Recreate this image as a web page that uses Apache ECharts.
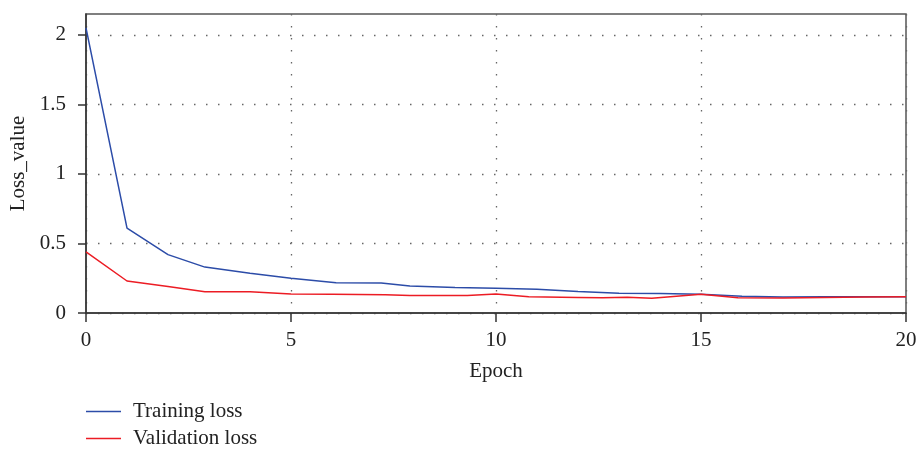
<!DOCTYPE html>
<html>
<head>
<meta charset="utf-8">
<script src="https://cdn.jsdelivr.net/npm/echarts@6/dist/echarts.min.js"></script>
<style>html,body{margin:0;padding:0;background:#fff}#c{width:916px;height:449px}</style>
</head>
<body>
<div id="c"></div>
<script>
const trainEpochs = [0, 1, 2, 2.9, 4, 5, 6.1, 7.2, 7.9, 9, 10, 11, 12, 13, 14, 15, 16, 17, 18, 19, 20];
const trainLoss   = [2.05, 0.61, 0.42, 0.33, 0.285, 0.25, 0.218, 0.216, 0.194, 0.184, 0.178, 0.17, 0.155, 0.142, 0.14, 0.134, 0.12, 0.115, 0.117, 0.117, 0.117];
const valEpochs = [0, 1, 2, 2.9, 4, 5, 6, 7.3, 7.9, 9.3, 10, 10.8, 12, 12.6, 13.2, 13.8, 15, 15.9, 17, 18, 19, 20];
const valLoss   = [0.44, 0.23, 0.19, 0.153, 0.153, 0.137, 0.134, 0.132, 0.125, 0.125, 0.137, 0.117, 0.112, 0.11, 0.113, 0.106, 0.134, 0.11, 0.108, 0.112, 0.115, 0.117];
const xTicks = [0, 5, 10, 15, 20];
const yTicks = [0, 0.5, 1, 1.5, 2];
const seriesNames = ['Training loss', 'Validation loss'];

const font = '"Liberation Serif", "DejaVu Serif", serif';
const axisCol = '#333';
const fs = 21;
const chart = echarts.init(document.getElementById('c'));
const pair = (xs, ys) => xs.map((x, i) => [x, ys[i]]);
chart.setOption({
  animation: false,
  grid: {left: 86, right: 10, top: 14, bottom: 136, show: true, borderColor: '#555', borderWidth: 1.5,
         containLabel: false, outerBoundsMode: 'none'},
  legend: {
    orient: 'vertical', left: 86, top: 401, padding: 0, itemWidth: 35, itemHeight: 1.5, itemGap: 6,
    icon: 'rect',
    textStyle: {fontFamily: font, fontSize: fs, color: '#222', padding: [0, 0, 0, 7]},
    data: seriesNames
  },
  xAxis: {
    type: 'value', min: 0, max: 20, interval: 5,
    name: 'Epoch', nameLocation: 'middle', nameGap: 48,
    nameTextStyle: {fontFamily: font, fontSize: fs, color: '#222'},
    axisLine: {show: true, lineStyle: {color: axisCol, width: 1.5}},
    axisTick: {show: true, length: 9, lineStyle: {color: axisCol, width: 1.5}},
    axisLabel: {fontFamily: font, fontSize: fs, color: '#222', margin: 17, customValues: xTicks},
    splitLine: {show: true, lineStyle: {color: '#666', width: 1.3, type: [1.5, 10.5]}}
  },
  yAxis: {
    type: 'value', min: 0, max: 2.15, interval: 0.5,
    name: 'Loss_value', nameLocation: 'middle', nameGap: 56, nameRotate: 90,
    nameTextStyle: {fontFamily: font, fontSize: fs, color: '#222'},
    axisLine: {show: true, lineStyle: {color: axisCol, width: 1.5}},
    axisTick: {show: true, length: 8, lineStyle: {color: axisCol, width: 1.5}, customValues: yTicks},
    axisLabel: {fontFamily: font, fontSize: fs, color: '#222', margin: 20, customValues: yTicks},
    splitLine: {show: true, lineStyle: {color: '#666', width: 1.3, type: [1.5, 10.5]}}
  },
  series: [
    {name: seriesNames[0], type: 'line', symbol: 'none', data: pair(trainEpochs, trainLoss),
     lineStyle: {color: '#2c4ca8', width: 1.5}, itemStyle: {color: '#2c4ca8'}},
    {name: seriesNames[1], type: 'line', symbol: 'none', data: pair(valEpochs, valLoss),
     lineStyle: {color: '#ec1c24', width: 1.5}, itemStyle: {color: '#ec1c24'}}
  ]
});
</script>
</body>
</html>
